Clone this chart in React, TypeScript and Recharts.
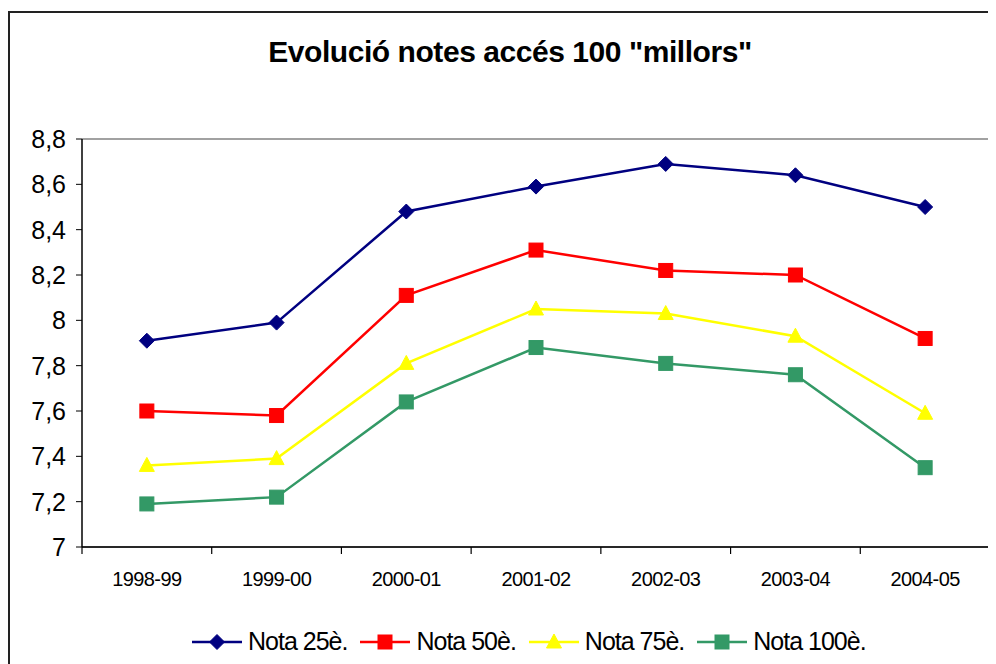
import React from "react";
import {
  LineChart,
  Line,
  XAxis,
  YAxis,
  CartesianGrid,
  Legend,
} from "recharts";

const categories = ["1998-99", "1999-00", "2000-01", "2001-02", "2002-03", "2003-04", "2004-05"];
const nota25 = [7.91, 7.99, 8.48, 8.59, 8.69, 8.64, 8.5];
const nota50 = [7.6, 7.58, 8.11, 8.31, 8.22, 8.2, 7.92];
const nota75 = [7.36, 7.39, 7.81, 8.05, 8.03, 7.93, 7.59];
const nota100 = [7.19, 7.22, 7.64, 7.88, 7.81, 7.76, 7.35];
const yTicks = [7, 7.2, 7.4, 7.6, 7.8, 8, 8.2, 8.4, 8.6, 8.8];

const seriesNames = ["Nota 25è.", "Nota 50è.", "Nota 75è.", "Nota 100è."];
const seriesColors = ["#000080", "#FF0000", "#FFFF00", "#339966"];
const seriesShapes = ["diamond", "square", "triangle", "square"];

const data = categories.map((c, i) => ({
  cat: c,
  s0: nota25[i],
  s1: nota50[i],
  s2: nota75[i],
  s3: nota100[i],
}));

const FONT = '"Liberation Sans", Arial, sans-serif';
const CHART_W = 988;
const CHART_H = 656;
const MARGIN = { top: 131, right: 6, left: 14, bottom: 77 };
const YAXIS_W = 60;
const PLOT_W = CHART_W - MARGIN.left - MARGIN.right - YAXIS_W;
const BAND = PLOT_W / categories.length;

function Marker({ shape, color, cx, cy }: { shape: string; color: string; cx: number; cy: number }) {
  if (cx == null || cy == null) return null;
  if (shape === "diamond") {
    const r = 7.5;
    return <polygon points={`${cx},${cy - r} ${cx + r},${cy} ${cx},${cy + r} ${cx - r},${cy}`} fill={color} stroke={color} />;
  }
  if (shape === "triangle") {
    const w = 7.5;
    return <polygon points={`${cx},${cy - 8} ${cx + w},${cy + 6} ${cx - w},${cy + 6}`} fill={color} stroke={color} />;
  }
  const s = 7;
  return <rect x={cx - s} y={cy - s} width={2 * s} height={2 * s} fill={color} stroke={color} />;
}

const makeDot = (idx: number) => (props: any) => {
  const { cx, cy, index } = props;
  return <Marker key={`d${idx}-${index}`} shape={seriesShapes[idx]} color={seriesColors[idx]} cx={cx} cy={cy} />;
};

const XTick = (props: any) => {
  const { x, y, payload, index } = props;
  const lines = [x - BAND / 2];
  if (index === categories.length - 1) lines.push(x + BAND / 2);
  return (
    <g>
      {lines.map((lx, k) => (
        <line key={k} x1={lx} x2={lx} y1={y} y2={y + 7} stroke="#000" strokeWidth={1.2} />
      ))}
      <text
        x={x}
        y={y + 39}
        textAnchor="middle"
        fontSize={20}
        letterSpacing={-0.6}
        fontFamily={FONT}
        fill="#000"
      >
        {payload.value}
      </text>
    </g>
  );
};

const renderLegend = () => (
  <div
    style={{
      display: "flex",
      alignItems: "center",
      whiteSpace: "nowrap",
      fontFamily: FONT,
      fontSize: 25,
      letterSpacing: -1.0,
      color: "#000",
    }}
  >
    {seriesNames.map((n, i) => (
      <div key={n} style={{ display: "flex", alignItems: "center", marginRight: 13 }}>
        <svg width={50} height={20} style={{ display: "block" }}>
          <line x1={0} x2={50} y1={10} y2={10} stroke={seriesColors[i]} strokeWidth={2.5} />
          <Marker shape={seriesShapes[i]} color={seriesColors[i]} cx={25} cy={10} />
        </svg>
        <span style={{ marginLeft: 6 }}>{n}</span>
      </div>
    ))}
  </div>
);

const fmt = (v: number) => String(Math.round(v * 10) / 10).replace(".", ",");

export default function App() {
  return (
    <div style={{ position: "relative", width: CHART_W, height: CHART_H, overflow: "hidden", background: "#fff" }}>
      <div
        style={{
          position: "absolute",
          left: 0,
          top: 3,
          width: 1020,
          height: 720,
          border: "2px solid #222",
          boxSizing: "border-box",
        }}
      />
      <div
        style={{
          position: "absolute",
          left: 0,
          top: 29,
          width: 1004,
          textAlign: "center",
          fontFamily: FONT,
          fontWeight: "bold",
          fontSize: 30,
          letterSpacing: -0.45,
          lineHeight: 1,
          color: "#000",
        }}
      >
        Evolució notes accés 100 "millors"
      </div>
      <div style={{ position: "absolute", left: 0, top: 0 }}>
        <LineChart width={CHART_W} height={CHART_H} data={data} margin={MARGIN}>
          <CartesianGrid vertical={false} stroke="#444" strokeWidth={1.2} />
          <XAxis
            dataKey="cat"
            padding={{ left: BAND / 2, right: BAND / 2 }}
            axisLine={{ stroke: "#000", strokeWidth: 1.5 }}
            tickLine={false}
            tickSize={0}
            tickMargin={0}
            height={40}
            interval={0}
            tick={<XTick />}
          />
          <YAxis
            yAxisId="left"
            width={YAXIS_W}
            domain={[7, 8.8]}
            ticks={yTicks}
            tickFormatter={fmt}
            axisLine={{ stroke: "#000", strokeWidth: 1.5 }}
            tickLine={{ stroke: "#000" }}
            tickSize={6}
            tickMargin={10}
            tick={{ fontSize: 25, fontFamily: FONT, fill: "#000" }}
            interval={0}
          />
          <YAxis
            yAxisId="right"
            orientation="right"
            width={0}
            domain={[7, 8.8]}
            tick={false}
            tickLine={false}
            axisLine={{ stroke: "#999", strokeWidth: 1.5 }}
          />
          <Legend
            layout="horizontal"
            verticalAlign="middle"
            align="center"
            content={renderLegend}
            wrapperStyle={{ left: 184, top: 619, width: "auto" }}
          />
          {["s0", "s1", "s2", "s3"].map((k, i) => (
            <Line
              key={k}
              yAxisId="left"
              dataKey={k}
              name={seriesNames[i]}
              stroke={seriesColors[i]}
              strokeWidth={2.5}
              dot={makeDot(i)}
              activeDot={false}
              isAnimationActive={false}
            />
          ))}
        </LineChart>
      </div>
    </div>
  );
}
